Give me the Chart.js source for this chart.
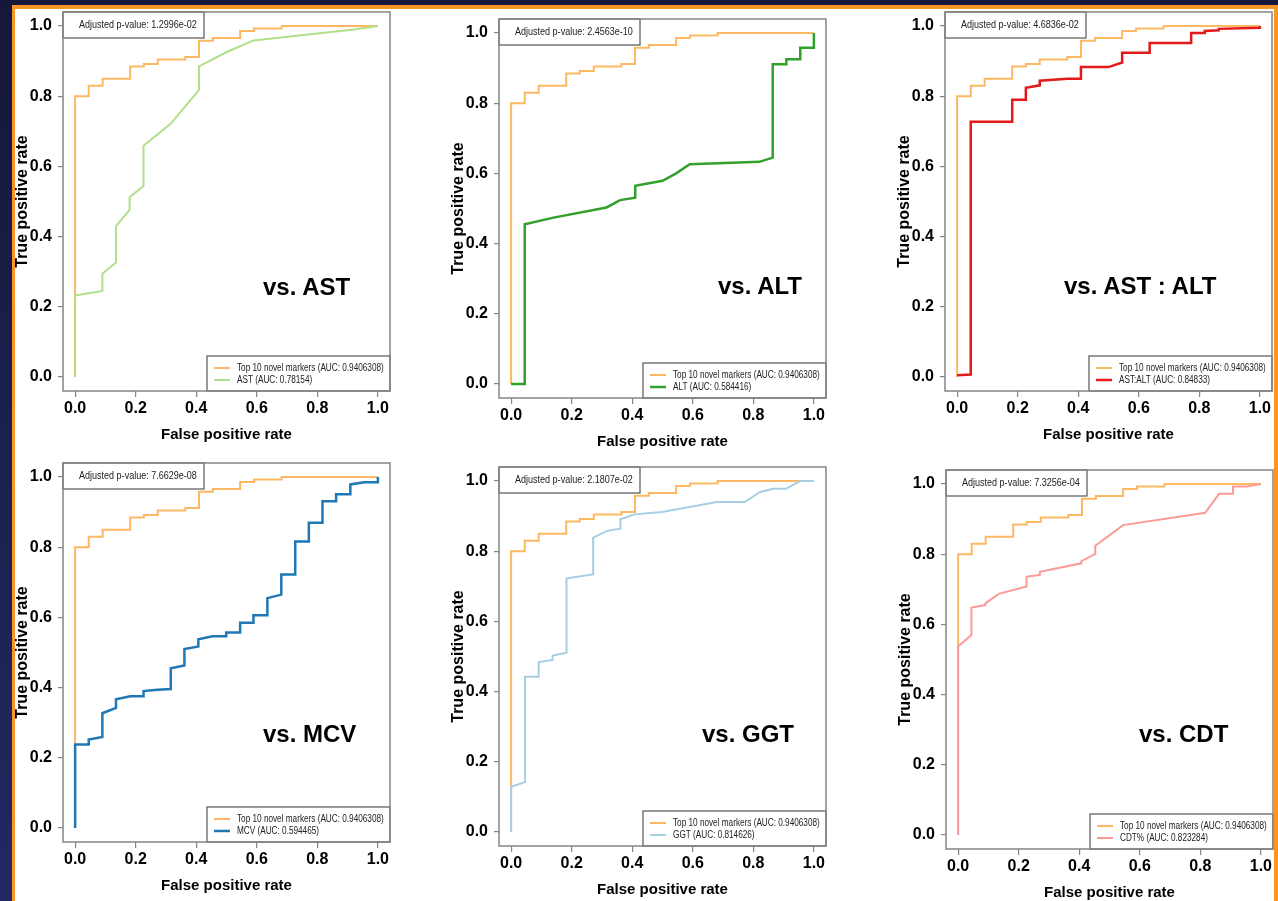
<!DOCTYPE html>
<html>
<head>
<meta charset="utf-8">
<title>ROC: top 10 novel markers vs. conventional markers</title>
<script src="https://cdn.jsdelivr.net/npm/chart.js@4.4.1/dist/chart.umd.min.js"></script>
<style>
  html, body { margin: 0; padding: 0; }
  body {
    width: 1278px; height: 901px; overflow: hidden; position: relative;
    background: linear-gradient(to bottom, #15183a, #222862);
  }
  #slide {
    position: absolute; left: 12px; top: 5px; width: 1259px; height: 1000px;
    background: #fff;
    border-left: 3px solid #f8962a; border-top: 4px solid #f8962a; border-right: 4px solid #f8962a;
  }
  .panel { position: absolute; }
  .vs {
    position: absolute; white-space: nowrap; color: #000;
    font: bold 24px/24px "Liberation Sans", Arial, sans-serif;
  }
</style>
</head>
<body>
<div id="slide"></div>

<script>
// ---- data ----
const tickValues = [0, 0.2, 0.4, 0.6, 0.8, 1.0];
const tickLabels = ["0.0", "0.2", "0.4", "0.6", "0.8", "1.0"];

const novelName = "Top 10 novel markers";
const novelAuc = "0.9406308";
const novelFpr = [0, 0, 0.045, 0.045, 0.091, 0.091, 0.182, 0.182, 0.227, 0.227, 0.273, 0.273, 0.364, 0.364, 0.409, 0.409, 0.455, 0.455, 0.545, 0.545, 0.591, 0.591, 0.682, 0.682, 1.0];
const novelTpr = [0, 0.80, 0.80, 0.83, 0.83, 0.85, 0.85, 0.885, 0.885, 0.892, 0.892, 0.905, 0.905, 0.912, 0.912, 0.958, 0.958, 0.966, 0.966, 0.986, 0.986, 0.993, 0.993, 1.0, 1.0];

const astFpr = [0, 0, 0.090, 0.090, 0.135, 0.135, 0.180, 0.180, 0.226, 0.226, 0.316, 0.409, 0.409, 0.501, 0.589, 0.92, 1.0];
const astTpr = [0, 0.232, 0.245, 0.294, 0.326, 0.430, 0.476, 0.512, 0.544, 0.659, 0.722, 0.817, 0.885, 0.926, 0.959, 0.99, 1.0];

const altFpr = [0, 0.045, 0.045, 0.14, 0.315, 0.36, 0.41, 0.41, 0.5, 0.545, 0.59, 0.82, 0.864, 0.864, 0.909, 0.909, 0.955, 0.955, 1.0, 1.0];
const altTpr = [0, 0, 0.455, 0.474, 0.503, 0.524, 0.531, 0.565, 0.579, 0.6, 0.626, 0.633, 0.645, 0.911, 0.911, 0.925, 0.925, 0.958, 0.958, 1.0];

const ratioFpr = [0, 0.045, 0.045, 0.182, 0.182, 0.227, 0.227, 0.273, 0.273, 0.364, 0.409, 0.409, 0.5, 0.545, 0.545, 0.636, 0.636, 0.773, 0.773, 0.818, 0.818, 0.864, 0.864, 1.0, 1.0];
const ratioTpr = [0.005, 0.007, 0.727, 0.727, 0.79, 0.79, 0.824, 0.831, 0.844, 0.85, 0.85, 0.883, 0.883, 0.896, 0.924, 0.924, 0.952, 0.952, 0.98, 0.98, 0.986, 0.988, 0.992, 0.995, 1.0];

const mcvFpr = [0, 0, 0.045, 0.045, 0.09, 0.09, 0.135, 0.135, 0.182, 0.226, 0.226, 0.272, 0.316, 0.316, 0.361, 0.361, 0.407, 0.407, 0.454, 0.499, 0.499, 0.545, 0.545, 0.589, 0.589, 0.635, 0.635, 0.681, 0.681, 0.727, 0.727, 0.772, 0.772, 0.817, 0.817, 0.862, 0.862, 0.909, 0.909, 0.955, 1.0, 1.0];
const mcvTpr = [0, 0.238, 0.238, 0.252, 0.259, 0.327, 0.342, 0.367, 0.375, 0.375, 0.39, 0.394, 0.396, 0.455, 0.463, 0.51, 0.517, 0.538, 0.546, 0.546, 0.557, 0.557, 0.585, 0.585, 0.606, 0.606, 0.655, 0.665, 0.722, 0.722, 0.816, 0.816, 0.87, 0.87, 0.931, 0.931, 0.951, 0.951, 0.979, 0.985, 0.985, 1.0];

const ggtFpr = [0, 0, 0.046, 0.046, 0.091, 0.091, 0.137, 0.137, 0.183, 0.183, 0.271, 0.271, 0.317, 0.361, 0.361, 0.407, 0.498, 0.68, 0.772, 0.822, 0.866, 0.907, 0.954, 1.0];
const ggtTpr = [0, 0.129, 0.142, 0.442, 0.442, 0.484, 0.49, 0.503, 0.511, 0.723, 0.734, 0.839, 0.858, 0.864, 0.891, 0.905, 0.912, 0.94, 0.94, 0.969, 0.978, 0.978, 1.0, 1.0];

const cdtFpr = [0, 0, 0.044, 0.044, 0.09, 0.09, 0.134, 0.226, 0.226, 0.27, 0.27, 0.407, 0.407, 0.453, 0.453, 0.545, 0.816, 0.862, 0.908, 0.908, 0.954, 1.0];
const cdtTpr = [0, 0.537, 0.57, 0.648, 0.655, 0.66, 0.687, 0.708, 0.736, 0.741, 0.75, 0.774, 0.78, 0.801, 0.824, 0.883, 0.918, 0.972, 0.972, 0.993, 0.993, 1.0];

const markerNames = ["AST", "ALT", "AST:ALT", "MCV", "GGT", "CDT%"];
const markerAuc = ["0.78154", "0.584416", "0.84833", "0.594465", "0.814626", "0.823284"];
const markerFpr = [astFpr, altFpr, ratioFpr, mcvFpr, ggtFpr, cdtFpr];
const markerTpr = [astTpr, altTpr, ratioTpr, mcvTpr, ggtTpr, cdtTpr];
const pValues = ["1.2996e-02", "2.4563e-10", "4.6836e-02", "7.6629e-08", "2.1807e-02", "7.3256e-04"];
const panelTitles = ["vs. AST", "vs. ALT", "vs. AST : ALT", "vs. MCV", "vs. GGT", "vs. CDT"];

// ---- style & layout ----
const FONT = "'Liberation Sans', Arial, sans-serif";
const SQUEEZE = 0.82;   // the source plots were squashed sideways
const FRAME = "#858585";
const novelColor = "#fdb863";
const markerColors = ["#b2df8a", "#33a02c", "#e31a1c", "#1f78b4", "#a6cee3", "#fb9a99"];
const markerWidths = [2, 2.5, 2.5, 2.5, 2, 2];

// top-left corner of each plot box, and of each "vs." label
const boxPos = [[63, 12], [499, 19], [945, 12], [63, 463], [499, 467], [946, 470]];
const titlePos = [[263, 275], [718, 274], [1064, 274], [263, 722], [702, 722], [1139, 722]];

const Y_AXIS_W = 63, X_AXIS_H = 62, PAD_TOP = 4, PAD_RIGHT = 4;
const BOX_W = 327, BOX_H = 379;

function toPoints(xs, ys) {
  return xs.map((x, i) => ({ x: x, y: ys[i] }));
}

function squeezedText(ctx, text, x, y) {
  ctx.save();
  ctx.translate(x, y);
  ctx.scale(SQUEEZE, 1);
  ctx.fillText(text, 0, 0);
  ctx.restore();
}

// R-style frame, p-value box and legend
const rFrame = {
  id: "rFrame",
  afterDraw(chart, args, opts) {
    const { ctx, chartArea: a } = chart;
    ctx.save();

    // adjusted p-value box (top left)
    ctx.lineWidth = 1.2;
    ctx.strokeStyle = "#555";
    ctx.fillStyle = "#fff";
    ctx.fillRect(a.left, a.top, 141, 26);
    ctx.strokeRect(a.left, a.top, 141, 26);
    ctx.fillStyle = "#222";
    ctx.font = "11px " + FONT;
    ctx.textBaseline = "middle";
    ctx.textAlign = "left";
    squeezedText(ctx, "Adjusted p-value: " + opts.pValue, a.left + 16, a.top + 13);

    // legend (bottom right)
    const lw = 183, lh = 35;
    const lx = a.right - lw, ly = a.bottom - lh;
    ctx.fillStyle = "#fff";
    ctx.fillRect(lx, ly, lw, lh);
    ctx.strokeRect(lx, ly, lw, lh);
    ctx.font = "10px " + FONT;
    opts.items.forEach((it, i) => {
      const y = a.bottom - 23 + 12 * i;
      ctx.strokeStyle = it.color;
      ctx.lineWidth = it.width;
      ctx.beginPath();
      ctx.moveTo(lx + 7, y);
      ctx.lineTo(lx + 23, y);
      ctx.stroke();
      ctx.fillStyle = "#222";
      squeezedText(ctx, it.label, lx + 30, y);
    });

    // plot box
    ctx.strokeStyle = FRAME;
    ctx.lineWidth = 1.5;
    ctx.strokeRect(a.left, a.top, a.width, a.height);
    ctx.restore();
  }
};

function axis(pos, title, titleFont, titlePad) {
  return {
    type: "linear",
    position: pos,
    min: -0.04,
    max: 1.04,
    afterBuildTicks: (s) => { s.ticks = tickValues.map((v) => ({ value: v })); },
    afterFit: (s) => {
      if (pos === "left") s.width = Y_AXIS_W; else s.height = X_AXIS_H;
      s.paddingTop = 0; s.paddingBottom = 0; s.paddingLeft = 0; s.paddingRight = 0;
    },
    ticks: {
      autoSkip: false,
      maxRotation: 0,
      padding: pos === "left" ? 6 : 2,
      color: "#000",
      font: { family: FONT, size: 16, weight: "bold" },
      callback: (v, i) => tickLabels[i]
    },
    grid: { drawOnChartArea: false, drawTicks: true, tickLength: pos === "left" ? 5 : 6, color: FRAME, lineWidth: 1.2 },
    border: { display: false },
    title: { display: true, text: title, color: "#000", font: titleFont, padding: titlePad }
  };
}

markerNames.forEach((name, i) => {
  const [bx, by] = boxPos[i];
  const canvas = document.createElement("canvas");
  canvas.className = "panel";
  canvas.width = Y_AXIS_W + BOX_W + PAD_RIGHT;
  canvas.height = PAD_TOP + BOX_H + X_AXIS_H;
  canvas.style.left = (bx - Y_AXIS_W) + "px";
  canvas.style.top = (by - PAD_TOP) + "px";
  document.body.appendChild(canvas);

  const label = document.createElement("div");
  label.className = "vs";
  label.textContent = panelTitles[i];
  label.style.left = titlePos[i][0] + "px";
  label.style.top = titlePos[i][1] + "px";
  document.body.appendChild(label);

  const markerLabel = name + " (AUC: " + markerAuc[i] + ")";
  const novelLabel = novelName + " (AUC: " + novelAuc + ")";

  new Chart(canvas.getContext("2d"), {
    type: "scatter",
    data: {
      datasets: [
        {
          label: markerLabel,
          data: toPoints(markerFpr[i], markerTpr[i]),
          showLine: true,
          borderColor: markerColors[i],
          borderWidth: markerWidths[i],
          pointRadius: 0,
          tension: 0,
          order: 0
        },
        {
          label: novelLabel,
          data: toPoints(novelFpr, novelTpr),
          showLine: true,
          borderColor: novelColor,
          borderWidth: 2,
          pointRadius: 0,
          tension: 0,
          order: 1
        }
      ]
    },
    options: {
      responsive: false,
      animation: false,
      devicePixelRatio: 1,
      events: [],
      layout: { padding: { top: PAD_TOP, right: PAD_RIGHT, bottom: 0, left: 0 } },
      plugins: {
        legend: { display: false },
        tooltip: { enabled: false },
        rFrame: {
          pValue: pValues[i],
          items: [
            { label: novelLabel, color: novelColor, width: 2 },
            { label: markerLabel, color: markerColors[i], width: markerWidths[i] }
          ]
        }
      },
      scales: {
        x: axis("bottom", "False positive rate", { family: FONT, size: 15, weight: "bold" }, { top: 0, bottom: 9 }),
        y: axis("left", "True positive rate", { family: FONT, size: 16, weight: "bold" }, { top: 13, bottom: 0 })
      }
    },
    plugins: [rFrame]
  });
});
</script>
</body>
</html>
